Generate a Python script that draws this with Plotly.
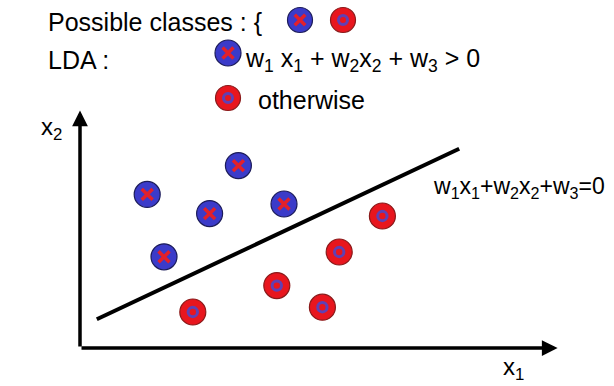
import plotly.graph_objects as go

# ---- data (x1, x2 feature space) ----
class_x_x1 = [1.4, 3.3, 2.7, 4.25, 1.75]
class_x_x2 = [3.2, 3.8, 2.8, 3.0, 1.9]
class_o_x1 = [2.35, 4.1, 5.05, 5.4, 6.3]
class_o_x2 = [0.75, 1.3, 0.85, 2.0, 2.75]
boundary_x1 = [0.35, 7.9]
boundary_x2 = [0.6, 4.15]
axis_x1_max = 9.95
axis_x2_max = 4.95

# ---- layout helpers (pixel -> axis coords for decorations) ----
W, H = 614, 386
X0, Y0, S = 80, 348, 48.0
def px(x):
    return (x - X0) / S
def py(y):
    return (Y0 - y) / S

BLUE = "#3b3bc9"
BLUE_EDGE = "#1c1c5a"
RED = "#e8161e"
RED_EDGE = "#8a1a1a"
INNER_X = "#e3202a"
INNER_O = "#6040b4"
FONT = "Liberation Sans, Arial, sans-serif"

fig = go.Figure()

def add_x_glyphs(xs, ys, size=26):
    fig.add_trace(go.Scatter(x=xs, y=ys, mode="markers", hoverinfo="skip",
                             marker=dict(symbol="circle", size=size, color=BLUE,
                                         line=dict(color=BLUE_EDGE, width=1.2))))
    fig.add_trace(go.Scatter(x=xs, y=ys, mode="markers", hoverinfo="skip",
                             marker=dict(symbol="x-thin", size=size * 0.42, color=INNER_X,
                                         line=dict(color=INNER_X, width=3.5))))

def add_o_glyphs(xs, ys, size=26):
    fig.add_trace(go.Scatter(x=xs, y=ys, mode="markers", hoverinfo="skip",
                             marker=dict(symbol="circle", size=size, color=RED,
                                         line=dict(color=RED_EDGE, width=1.2))))
    fig.add_trace(go.Scatter(x=xs, y=ys, mode="markers", hoverinfo="skip",
                             marker=dict(symbol="circle-open", size=size * 0.36, color=INNER_O,
                                         line=dict(color=INNER_O, width=3))))

# decision boundary
fig.add_trace(go.Scatter(x=boundary_x1, y=boundary_x2, mode="lines", hoverinfo="skip",
                         line=dict(color="black", width=4)))

# data points
add_x_glyphs(class_x_x1, class_x_x2)
add_o_glyphs(class_o_x1, class_o_x2)

# key glyphs in header
add_x_glyphs([px(300)], [py(20)], size=25)
add_o_glyphs([px(343)], [py(20)], size=25)
add_x_glyphs([px(228)], [py(53)], size=26)
add_o_glyphs([px(228)], [py(98)], size=25)

annotations = []
# axis arrows
annotations.append(dict(x=axis_x1_max, y=0, ax=0, ay=0, xref="x", yref="y", axref="x", ayref="y",
                        text="", showarrow=True, arrowhead=2, arrowsize=0.9, arrowwidth=3.5,
                        arrowcolor="black", standoff=0, startstandoff=0))
annotations.append(dict(x=0, y=axis_x2_max, ax=0, ay=0, xref="x", yref="y", axref="x", ayref="y",
                        text="", showarrow=True, arrowhead=2, arrowsize=0.9, arrowwidth=3.5,
                        arrowcolor="black", standoff=0, startstandoff=0))

def txt(s, x, y, size, anchor="left"):
    annotations.append(dict(text=s, x=x / W, y=1 - y / H, xref="paper", yref="paper",
                            xanchor=anchor, yanchor="middle", showarrow=False,
                            font=dict(family=FONT, size=size, color="black")))

txt("Possible classes : {", 46, 22, 25)
txt("LDA :", 46, 60, 25)
txt("w<sub>1</sub> x<sub>1</sub> + w<sub>2</sub>x<sub>2</sub> + w<sub>3</sub> &gt; 0", 243, 60, 25)
txt("otherwise", 256, 100, 25)
txt("x<sub>2</sub>", 39, 128, 24)
txt("x<sub>1</sub>", 501, 368, 24)
txt("w<sub>1</sub>x<sub>1</sub>+w<sub>2</sub>x<sub>2</sub>+w<sub>3</sub>=0", 431, 188, 23)

fig.update_layout(
    width=W, height=H, margin=dict(l=0, r=0, t=0, b=0, autoexpand=False),
    paper_bgcolor="white", plot_bgcolor="white", showlegend=False,
    xaxis=dict(range=[px(0), px(W)], visible=False, fixedrange=True),
    yaxis=dict(range=[py(H), py(0)], visible=False, fixedrange=True),
    annotations=annotations,
)

fig.write_html("out.html", config={"displayModeBar": False},
               post_script="document.body.style.margin='0';document.body.style.overflow='hidden';")
